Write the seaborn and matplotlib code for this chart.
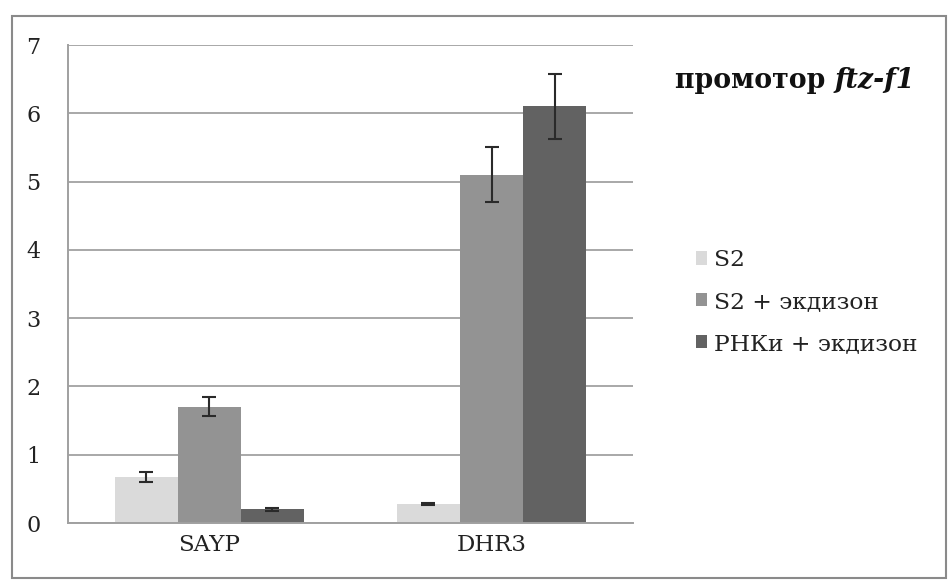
import matplotlib
matplotlib.use("Agg")
import matplotlib.pyplot as plt
import seaborn as sns
import pandas as pd
import numpy as np
from matplotlib.patches import Patch

categories = ["SAYP", "DHR3"]
groups = ["S2", "S2 + экдизон", "РНКи + экдизон"]
values_s2 = [0.67, 0.28]
values_s2_ecd = [1.70, 5.10]
values_rnai_ecd = [0.20, 6.10]
err_s2 = [0.07, 0.02]
err_s2_ecd = [0.14, 0.40]
err_rnai_ecd = [0.02, 0.48]
yticks = [0, 1, 2, 3, 4, 5, 6, 7]
title_plain = "промотор "
title_italic = "ftz-f1"

colors = ["#dadada", "#939393", "#626262"]

rows = []
for g, vals in zip(groups, [values_s2, values_s2_ecd, values_rnai_ecd]):
    for c, v in zip(categories, vals):
        rows.append({"cat": c, "grp": g, "val": v})
df = pd.DataFrame(rows)
errs = [err_s2, err_s2_ecd, err_rnai_ecd]

sns.set_style("white")
plt.rcParams["font.family"] = ["DejaVu Serif"]

fig = plt.figure(figsize=(9.49, 5.81), dpi=100)
ax = fig.add_axes([0.0717, 0.0998, 0.5950, 0.8227])

sns.barplot(data=df, x="cat", y="val", hue="grp", order=categories,
            hue_order=groups, palette=colors, width=0.67, saturation=1,
            errorbar=None, ax=ax, legend=False, edgecolor="none", linewidth=0)

for cont, e in zip(ax.containers, errs):
    xs = [b.get_x() + b.get_width() / 2 for b in cont]
    ys = [b.get_height() for b in cont]
    ax.errorbar(xs, ys, yerr=e, fmt="none", ecolor="#2a2a2a",
                elinewidth=1.5, capsize=5, capthick=1.5, zorder=5)

ax.set_ylim(0, 7)
ax.set_xlim(-0.5, 1.5)
ax.set_yticks(yticks)
ax.set_yticklabels([str(t) for t in yticks], fontsize=16, color="#222222")
ax.tick_params(axis="y", length=0, pad=20)
ax.tick_params(axis="x", length=0, labelsize=16.5, pad=8, colors="#222222")
ax.set_xticks([-0.5, 0.5, 1.5], minor=True)
ax.tick_params(axis="x", which="minor", length=6, color="#999999", width=1)
ax.set_xlabel("")
ax.set_ylabel("")
ax.grid(axis="y", color="#a8a8a8", linewidth=1.4)
ax.set_axisbelow(True)
for s in ["top", "right"]:
    ax.spines[s].set_visible(False)
for s in ["left", "bottom"]:
    ax.spines[s].set_color("#a0a0a0")
    ax.spines[s].set_linewidth(1.4)

# outer border
fig.patches.append(plt.Rectangle((0.013, 0.005), 0.984, 0.968,
                                  transform=fig.transFigure, fill=False,
                                  edgecolor="#8a8a8a", linewidth=1.5))

t1 = fig.text(0.711, 0.862, title_plain, fontsize=19.3, fontweight="bold",
              color="#111111", va="center")
fig.canvas.draw()
bb = t1.get_window_extent()
fig.text(bb.x1 / fig.bbox.width, 0.862, title_italic, fontsize=19.3,
         fontweight="bold", style="italic", color="#111111", va="center")

handles = [Patch(facecolor=c, edgecolor="none") for c in colors]
fig.legend(handles, groups, loc="center left", bbox_to_anchor=(0.711, 0.48),
           frameon=False, fontsize=16.8, handlelength=0.5, handleheight=0.5,
           handletextpad=0.3, labelspacing=0.85, labelcolor="#222222")

fig.savefig("out.png", dpi=100)
